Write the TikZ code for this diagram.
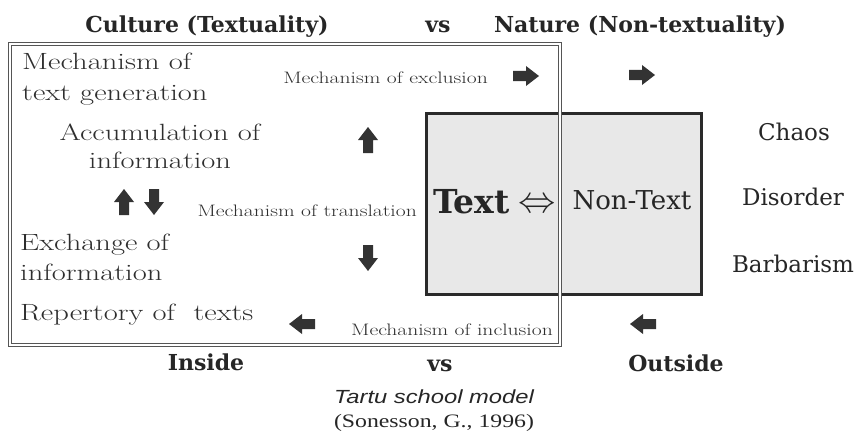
\documentclass[tikz,border=0pt]{standalone}
\usepackage{fontspec}
\setmainfont{Latin Modern Roman}
\newfontfamily\bodyf[FakeStretch=1.3]{Latin Modern Roman}
\newfontfamily\headf{DejaVu Serif}
\newfontfamily\capf[FakeStretch=1.25]{Liberation Sans}
\newfontfamily\citef[FakeStretch=1.25]{Liberation Serif}
\definecolor{arrowc}{HTML}{333333}
\definecolor{boxfill}{HTML}{E8E8E8}
\definecolor{boxline}{HTML}{2A2A2A}
\definecolor{framec}{HTML}{555555}
\newcommand\blockarrow[3]{%
  \begin{scope}[shift={(#2)},rotate=#3]
    \fill[arrowc] (-13,-5) -- (0,-5) -- (0,-10) -- (13,0) -- (0,10) -- (0,5) -- (-13,5) -- cycle;
    \coordinate (#1) at (0,0);
  \end{scope}}
\begin{document}
\begin{tikzpicture}[x=1pt,y=-1pt,
  head/.style={font=\headf\bfseries\fontsize{22}{26}\selectfont,anchor=base,inner sep=0pt,text=black!85},
  bodyl/.style={font=\bodyf\fontsize{23.5}{30}\selectfont,anchor=base west,inner sep=0pt,text=black!82},
  bodyc/.style={font=\bodyf\fontsize{23.5}{30}\selectfont,anchor=base,inner sep=0pt,text=black!82},
  mech/.style={font=\bodyf\fontsize{16.6}{18}\selectfont,inner sep=0pt,text=black!82},
  side/.style={font=\headf\fontsize{23}{26}\selectfont,anchor=base,inner sep=0pt,text=black!85}]
\useasboundingbox (0,0) rectangle (859,436);
% gray box
\draw[fill=boxfill,draw=boxline,line width=3pt] (426,113) rectangle (701,294);
% double frame
\draw[framec,line width=0.9pt,double=white,double distance=1.6pt] (10,44) rectangle (560,345);
% headings
\node[head] (culture) at (207,33) {Culture (Textuality)};
\node[head] (vstop) at (438,33) {vs};
\node[head] (nature) at (640,33) {Nature (Non-textuality)};
\node[head] (inside) at (206,370) {Inside};
\node[head] (vsbot) at (440,371) {vs};
\node[head] (outside) at (676,371) {Outside};
% left texts
\node[bodyl] (mech1) at (22,70) {Mechanism of};
\node[bodyl] (mech2) at (22,100) {text generation};
\node[bodyc] (acc1) at (160,140) {Accumulation of};
\node[bodyc] (acc2) at (160,168) {information};
\node[bodyl] (exc1) at (20,250) {Exchange of};
\node[bodyl] (exc2) at (20,280) {information};
\node[bodyl] (rep) at (20,320) {Repertory of~~texts};
% mechanism labels
\node[mech,anchor=base east] (excl) at (488,84) {Mechanism of exclusion};
\node[mech,anchor=base east] (transl) at (417,216) {Mechanism of translation};
\node[mech,anchor=base east] (incl) at (553,335) {Mechanism of inclusion};
% text / non-text
\node[font=\headf\bfseries\fontsize{33}{36}\selectfont,anchor=base west,inner sep=0pt,text=black!85] (text) at (433,213) {Text};
\node[font=\fontsize{24}{26}\selectfont,anchor=base,inner sep=0pt,text=black!85] (iff) at (537,212) {\scalebox{1.5}{$\Leftrightarrow$}};
\node[font=\headf\fontsize{26}{30}\selectfont,anchor=base,inner sep=0pt,text=black!85] (nontext) at (632,209) {Non-Text};
% right side
\node[side] (chaos) at (794,140) {Chaos};
\node[side] (disorder) at (793,205) {Disorder};
\node[side] (barb) at (793,272) {Barbarism};
% caption
\node[font=\capf\itshape\fontsize{19}{22}\selectfont,anchor=base,inner sep=0pt,text=black!85] (cap) at (434,403) {Tartu school model};
\node[font=\citef\fontsize{19}{22}\selectfont,anchor=base,inner sep=0pt,text=black!85] (cite) at (434,427) {(Sonesson, G., 1996)};
% arrows
\blockarrow{a1}{526,76}{0}
\blockarrow{a2}{642,75}{0}
\blockarrow{a3}{368,140}{90}
\blockarrow{a4}{124,202}{90}
\blockarrow{a5}{154,202}{270}
\blockarrow{a6}{368,258}{270}
\blockarrow{a7}{302,324}{180}
\blockarrow{a8}{643,324}{180}
\end{tikzpicture}
\end{document}
